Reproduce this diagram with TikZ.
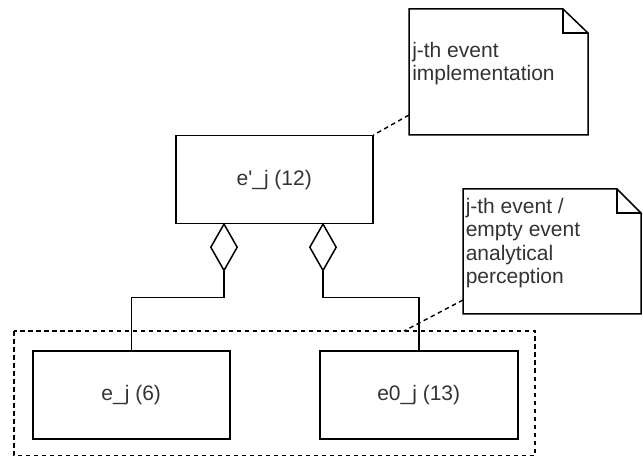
\documentclass[tikz,border=0pt]{standalone}
\usepackage{fontspec}
\newfontfamily\arial{Liberation Sans}
\usetikzlibrary{shapes.geometric}
\begin{document}
\begin{tikzpicture}[x=1pt,y=-1pt,
  line width=1.5pt,
  every node/.style={font=\arial\fontsize{21}{23.5}\selectfont, text=black!80},
  umlbox/.style={draw, minimum width=197pt, minimum height=88pt, inner sep=0pt, anchor=north west},
  agg/.style={draw, fill=white, diamond, minimum width=27pt, minimum height=47pt, inner sep=0pt, anchor=north},
  notetext/.style={align=left, anchor=north west, inner sep=0pt},
  dashline/.style={dash pattern=on 4.5pt off 3.5pt, line width=1.4pt}]
\useasboundingbox (0,0) rectangle (643,457);

% main boxes
\node[umlbox] (ep) at (175,135) {};
\node at (ep.center) {e'\_j (12)};
\node[umlbox] (ej) at (32,350) {};
\node at (ej.center) {e\_j (6)};
\node[umlbox, minimum width=198pt] (ez) at (319,350) {};
\node at (ez.center) {e0\_j (13)};

% aggregation diamonds
\node[agg] (d1) at (224,223) {};
\node[agg] (d2) at (323,223) {};

% connectors
\draw (d1.south) -- ++(0,26) -| (ej.north);
\draw (d2.south) -- ++(0,26) -| (ez.north);

% group rectangle
\draw[dashline] (14,331) rectangle (535,455.5);
\coordinate (gtop) at (404,331);

% note 1
\draw (409,9) -- (563,9) -- (588,33) -- (588,135) -- (409,135) -- cycle;
\draw (563,9) -- (563,33) -- (588,33);
\coordinate (n1a) at (409,115);
\node[notetext] (t1) at (411.5,41.5) {j-th event\\implementation};

% note 2
\draw (463,189) -- (617,189) -- (641,213) -- (641,314) -- (463,314) -- cycle;
\draw (617,189) -- (617,213) -- (641,213);
\coordinate (n2a) at (463,300);
\node[notetext] (t2) at (465,197.5) {j-th event /\\empty event\\analytical\\perception};

% note links
\draw[dashline] (n1a) -- (ep.north east);
\draw[dashline] (n2a) -- (gtop);
\end{tikzpicture}
\end{document}
